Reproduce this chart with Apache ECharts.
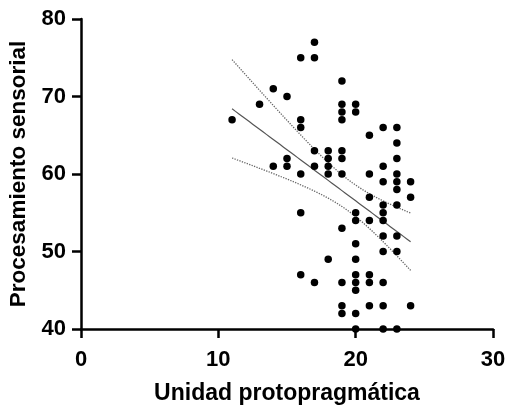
<!DOCTYPE html>
<html>
<head>
<meta charset="utf-8">
<script src="https://cdn.jsdelivr.net/npm/echarts@6/dist/echarts.min.js"></script>
<style>
  html, body { margin: 0; padding: 0; background: #fff; }
  #main { width: 506px; height: 406px; }
</style>
</head>
<body>
<div id="main"></div>
<script>
// Unidad protopragmática (x) vs Procesamiento sensorial (y)
var xVals = [11, 13, 14, 15, 15, 14, 15,
    17, 16, 17, 19,
    19, 20, 19, 20, 19, 16, 16, 22, 23, 21, 23,
    17, 18, 19,
    18, 19, 23,
    17, 18, 22,
    16, 18, 19, 21, 23,
    22, 23, 24,
    23,
    21, 24,
    22, 23,
    16, 20, 22,
    20, 21, 22,
    19,
    22, 23,
    20,
    22, 23,
    18, 20,
    16, 20, 21,
    17, 19, 20, 21, 22,
    20,
    19, 21, 22, 24,
    19, 20,
    20, 22, 23];
var yVals = [67, 69, 71, 70, 62, 61, 61,
    77, 75, 75, 72,
    69, 69, 68, 68, 67, 67, 66, 66, 66, 65, 64,
    63, 63, 63,
    62, 62, 62,
    61, 61, 61,
    60, 60, 60, 60, 60,
    59, 59, 59,
    58,
    57, 57,
    56, 56,
    55, 55, 55,
    54, 54, 54,
    53,
    52, 52,
    51,
    50, 50,
    49, 49,
    47, 47, 47,
    46, 46, 46, 46, 46,
    45,
    43, 43, 43, 43,
    42, 42,
    40, 40, 40];

var xTicks = [0, 10, 20, 30];
var yTicks = [40, 50, 60, 70, 80];

// linear regression with 95% confidence band
var n = xVals.length;
var mx = 0, my = 0;
for (var i = 0; i < n; i++) { mx += xVals[i]; my += yVals[i]; }
mx /= n; my /= n;
var sxx = 0, sxy = 0;
for (var i = 0; i < n; i++) {
    sxx += (xVals[i] - mx) * (xVals[i] - mx);
    sxy += (xVals[i] - mx) * (yVals[i] - my);
}
var slope = sxy / sxx;
var icpt = my - slope * mx;
var sse = 0;
for (var i = 0; i < n; i++) {
    var r = yVals[i] - (icpt + slope * xVals[i]);
    sse += r * r;
}
var se = Math.sqrt(sse / (n - 2));
var tCrit = 1.99;
var xLo = Math.min.apply(null, xVals), xHi = Math.max.apply(null, xVals);
var fit = [], upper = [], lower = [];
for (var x = xLo; x <= xHi + 1e-9; x += 0.25) {
    var yh = icpt + slope * x;
    var h = tCrit * se * Math.sqrt(1 / n + (x - mx) * (x - mx) / sxx);
    fit.push([x, yh]);
    upper.push([x, yh + h]);
    lower.push([x, yh - h]);
}

var points = xVals.map(function (v, i) { return [v, yVals[i]]; });

var myChart = echarts.init(document.getElementById('main'));
var fontFam = 'Liberation Sans, Arial, sans-serif';

var option = {
    animation: false,
    grid: { left: 81, right: 13, top: 19, bottom: 77, outerBoundsMode: 'none' },
    xAxis: {
        type: 'value',
        min: xTicks[0], max: xTicks[xTicks.length - 1], interval: 10,
        name: 'Unidad protopragmática',
        nameLocation: 'middle',
        nameGap: 53,
        nameTextStyle: { fontFamily: fontFam, fontWeight: 'bold', fontSize: 23, color: '#000' },
        axisLine: { lineStyle: { color: '#000', width: 2.5 } },
        axisTick: { length: 9, lineStyle: { color: '#000', width: 2.5 } },
        axisLabel: { margin: 20, fontFamily: fontFam, fontWeight: 'bold', fontSize: 22, color: '#000' },
        splitLine: { show: false }
    },
    yAxis: {
        type: 'value',
        min: yTicks[0], max: yTicks[yTicks.length - 1], interval: 10,
        name: 'Procesamiento sensorial',
        nameLocation: 'middle',
        nameGap: 47,
        nameTextStyle: { fontFamily: fontFam, fontWeight: 'bold', fontSize: 22.5, color: '#000' },
        axisLine: { show: true, lineStyle: { color: '#000', width: 2.5 } },
        axisTick: { show: true, length: 9, lineStyle: { color: '#000', width: 2.5 } },
        axisLabel: { margin: 15, fontFamily: fontFam, fontWeight: 'bold', fontSize: 22, color: '#000' },
        splitLine: { show: false }
    },
    series: [
        {
            type: 'line', data: upper, showSymbol: false, symbol: 'none',
            lineStyle: { color: '#666', width: 1.3, type: 'dotted' }, z: 1
        },
        {
            type: 'line', data: lower, showSymbol: false, symbol: 'none',
            lineStyle: { color: '#666', width: 1.3, type: 'dotted' }, z: 1
        },
        {
            type: 'line', data: fit, showSymbol: false, symbol: 'none',
            lineStyle: { color: '#555', width: 1.2 }, z: 2
        },
        {
            type: 'scatter', data: points, symbol: 'circle', symbolSize: 7.5,
            clip: false,
            itemStyle: { color: '#000', opacity: 1 }, z: 3
        }
    ]
};

myChart.setOption(option);
</script>
</body>
</html>
